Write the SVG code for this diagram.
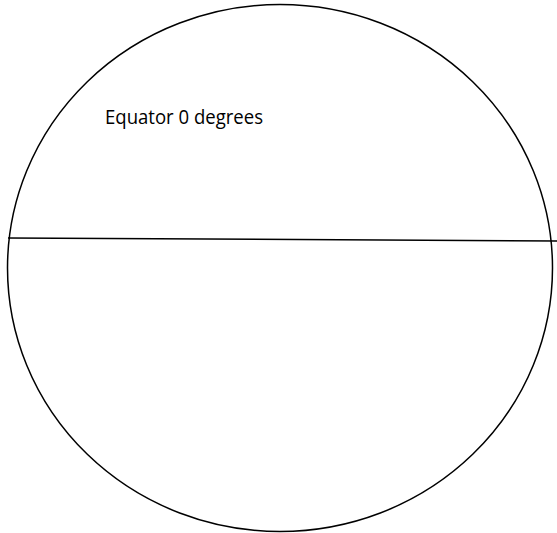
<svg xmlns="http://www.w3.org/2000/svg" width="557" height="533" viewBox="0 0 557 533">
<style>
.shape{fill:none;stroke:#000;stroke-width:1.5}
.lbl{font-family:"Open Sans","Liberation Sans",sans-serif;font-size:20px;fill:#000}
</style>
<rect width="557" height="533" fill="#fff"/>
<g id="globe">
<ellipse class="shape" cx="280" cy="268" rx="272.5" ry="263.5"/>
</g>
<g id="connectors">
<line class="shape" x1="8" y1="238" x2="557" y2="241"/>
</g>
<g id="label">
<text class="lbl" x="105" y="124" textLength="158" lengthAdjust="spacingAndGlyphs">Equator 0 degrees</text>
</g>
</svg>
